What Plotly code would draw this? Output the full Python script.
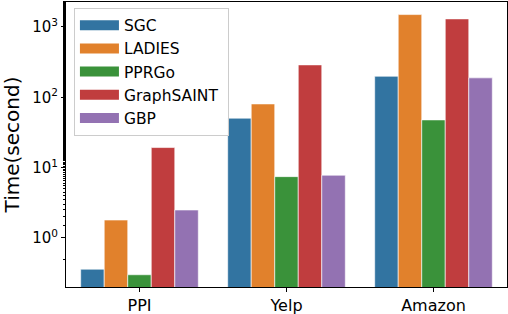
import plotly.graph_objects as go

categories = ["PPI", "Yelp", "Amazon"]
methods = ["SGC", "LADIES", "PPRGo", "GraphSAINT", "GBP"]
sgc = [0.36, 50.5, 199]
ladies = [1.8, 80.5, 1500]
pprgo = [0.30, 7.45, 47.7]
graphsaint = [19.3, 289, 1303]
gbp = [2.5, 7.8, 189]
values = [sgc, ladies, pprgo, graphsaint, gbp]
colors = ["#3274a1", "#e1812c", "#3a923a", "#c03d3e", "#9372b2"]
ytick_vals = [1, 10, 100, 1000]
ytick_text = ["10<sup>0</sup>", "10<sup>1</sup>", "10<sup>2</sup>", "10<sup>3</sup>"]

FONT = "DejaVu Sans"
fig = go.Figure()
for name, vals, col in zip(methods, values, colors):
    fig.add_trace(go.Bar(x=categories, y=vals, name=name, marker_color=col,
                         marker_line=dict(color="rgba(255,255,255,0.6)", width=1),
                         showlegend=False))
for name, col in zip(methods, colors):
    fig.add_trace(go.Scatter(x=[None], y=[None], mode="lines", name=name + " ",
                             line=dict(color=col, width=11), legendgroup=name,
                             showlegend=True))

fig.update_layout(
    width=508, height=314,
    margin=dict(l=66, r=1, t=2, b=27),
    paper_bgcolor="white", plot_bgcolor="white",
    barmode="group", bargap=0.2, bargroupgap=0,
    font=dict(family=FONT, color="black", size=15),
    legend=dict(x=0.018, y=0.98, xanchor="left", yanchor="top",
                bgcolor="rgba(255,255,255,0.8)", bordercolor="#cccccc", borderwidth=1,
                font=dict(size=15.5, family=FONT), tracegroupgap=0, itemwidth=39),
    xaxis=dict(showline=True, linecolor="black", linewidth=1, mirror=True,
               ticks="outside", ticklen=4, tickcolor="black", automargin=False,
               tickfont=dict(size=16), range=[-0.5, 2.5]),
    yaxis=dict(type="log", range=[-0.697, 3.355], showline=True, linecolor="black",
               linewidth=1, mirror=True, ticks="outside", ticklen=4, tickcolor="black",
               tickvals=ytick_vals, ticktext=ytick_text, tickfont=dict(size=15),
               showgrid=False, zeroline=False, automargin=False,
               minor=dict(ticks="outside", ticklen=2, tickcolor="black", showgrid=False),
               title=dict(text="Time(second)", font=dict(size=20), standoff=10)),
)
fig.write_html("out.html", config={"displayModeBar": False},
               post_script="document.body.style.margin='0';document.body.style.overflow='hidden';")
